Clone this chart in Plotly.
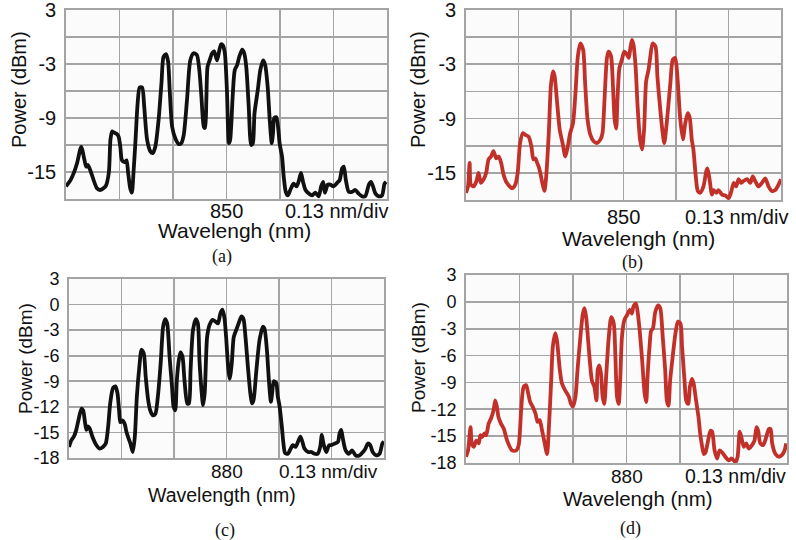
import plotly.graph_objects as go

# ---------------- data ----------------
wl_a = [849.610, 849.621, 849.629, 849.637, 849.647, 849.655, 849.659, 849.663, 849.669, 849.685,
        849.693, 849.706, 849.714, 849.718, 849.722, 849.726, 849.734, 849.738, 849.742, 849.746,
        849.752, 849.757, 849.761, 849.766, 849.770, 849.774, 849.779, 849.784, 849.789, 849.795,
        849.800, 849.807, 849.815, 849.821, 849.827, 849.835, 849.842, 849.847, 849.853, 849.858,
        849.862, 849.868, 849.876, 849.884, 849.890, 849.896, 849.904, 849.912, 849.920, 849.928,
        849.934, 849.939, 849.945, 849.948, 849.951, 849.954, 849.959, 849.965, 849.970, 849.977,
        849.983, 849.987, 849.991, 849.996, 850.001, 850.006, 850.009, 850.015, 850.020, 850.026,
        850.031, 850.038, 850.043, 850.048, 850.054, 850.060, 850.064, 850.068, 850.076, 850.082,
        850.089, 850.094, 850.100, 850.105, 850.110, 850.113, 850.116, 850.121, 850.126, 850.129,
        850.135, 850.139, 850.144, 850.149, 850.155, 850.163, 850.170, 850.175, 850.181, 850.186,
        850.192, 850.200, 850.208, 850.216, 850.224, 850.230, 850.235, 850.239, 850.246, 850.252,
        850.260, 850.269, 850.275, 850.281, 850.285, 850.290, 850.297, 850.305, 850.313, 850.321,
        850.329, 850.337, 850.346, 850.351, 850.356, 850.362, 850.370, 850.378, 850.384, 850.388]
pw_a = [-16.6, -15.9, -15.1, -14.0, -12.2, -13.7, -14.4, -14.2, -14.8, -16.8,
        -17.0, -16.6, -15.1, -11.4, -10.5, -10.6, -10.8, -11.1, -12.2, -13.7,
        -13.9, -13.7, -15.1, -16.8, -17.3, -15.1, -11.4, -7.4, -5.6, -5.6,
        -7.7, -11.4, -12.7, -12.9, -12.2, -9.2, -5.1, -2.2, -1.9, -2.7,
        -5.9, -10.0, -11.3, -11.9, -11.8, -10.9, -7.0, -2.6, -1.8, -2.0,
        -3.7, -6.6, -10.0, -10.1, -7.0, -3.3, -2.6, -1.8, -1.6, -2.6,
        -1.4, -0.8, -0.9, -1.8, -5.9, -11.8, -11.4, -6.6, -3.7, -3.1,
        -2.2, -1.4, -1.8, -3.3, -7.7, -12.0, -11.8, -8.5, -5.9, -3.7,
        -2.6, -3.1, -5.5, -9.2, -11.8, -10.7, -9.0, -8.9, -10.3, -11.8,
        -13.3, -15.5, -17.2, -17.6, -17.0, -16.3, -16.6, -16.1, -15.1, -16.1,
        -17.0, -17.4, -17.6, -17.3, -17.7, -16.6, -16.1, -17.3, -16.4, -16.4,
        -16.6, -16.2, -15.9, -14.6, -14.4, -15.9, -17.2, -17.2, -17.0, -17.4,
        -17.7, -17.7, -16.4, -16.1, -16.6, -17.4, -17.7, -17.6, -16.3, -16.1]

wl_b = [849.610, 849.615, 849.619, 849.622, 849.629, 849.636, 849.641, 849.647, 849.654, 849.660,
        849.666, 849.672, 849.678, 849.685, 849.691, 849.697, 849.703, 849.711, 849.724, 849.732,
        849.738, 849.744, 849.751, 849.757, 849.765, 849.772, 849.777, 849.782, 849.786, 849.790,
        849.794, 849.798, 849.804, 849.808, 849.815, 849.820, 849.825, 849.829, 849.835, 849.842,
        849.849, 849.856, 849.862, 849.868, 849.875, 849.881, 849.887, 849.893, 849.900, 849.905,
        849.911, 849.918, 849.926, 849.934, 849.943, 849.948, 849.953, 849.959, 849.963, 849.969,
        849.974, 849.978, 849.982, 849.985, 849.990, 849.996, 850.002, 850.007, 850.013, 850.017,
        850.021, 850.025, 850.030, 850.035, 850.041, 850.046, 850.051, 850.056, 850.062, 850.066,
        850.072, 850.079, 850.084, 850.091, 850.097, 850.101, 850.107, 850.116, 850.122, 850.128,
        850.134, 850.140, 850.147, 850.153, 850.159, 850.164, 850.169, 850.173, 850.179, 850.184,
        850.190, 850.198, 850.205, 850.208, 850.213, 850.219, 850.223, 850.230, 850.235, 850.244,
        850.252, 850.260, 850.266, 850.273, 850.279, 850.285, 850.291, 850.297, 850.306, 850.314,
        850.320, 850.326, 850.334, 850.343, 850.351, 850.359, 850.367, 850.376, 850.384, 850.390]
pw_b = [-17.2, -16.5, -13.9, -16.3, -16.5, -15.9, -15.0, -16.1, -15.7, -15.0,
        -13.5, -13.2, -12.6, -13.4, -13.2, -13.9, -15.2, -16.1, -16.7, -16.3,
        -15.0, -11.7, -10.6, -10.8, -11.0, -12.1, -13.5, -13.4, -13.9, -14.3,
        -15.0, -15.9, -17.0, -15.7, -10.6, -5.5, -3.8, -4.2, -6.9, -10.2,
        -11.7, -13.2, -12.1, -10.6, -9.5, -6.2, -2.1, -0.7, -1.4, -5.1,
        -9.1, -10.8, -11.5, -11.7, -11.3, -10.6, -6.9, -2.3, -1.6, -2.1,
        -5.5, -9.1, -10.1, -6.9, -3.4, -2.5, -1.6, -1.8, -2.3, -1.2,
        -0.3, -0.9, -3.3, -7.7, -11.3, -12.4, -10.2, -4.9, -3.6, -2.3,
        -0.7, -1.0, -4.4, -8.0, -10.6, -11.7, -9.5, -5.1, -2.5, -2.3,
        -4.7, -8.8, -11.3, -9.5, -8.4, -8.9, -11.3, -12.4, -15.4, -17.0,
        -17.2, -16.5, -14.8, -14.5, -15.7, -17.4, -16.9, -17.2, -16.9, -17.4,
        -17.5, -17.8, -17.2, -16.1, -16.5, -15.7, -16.1, -15.9, -15.7, -16.1,
        -15.4, -15.9, -16.5, -16.1, -15.6, -16.5, -17.0, -16.9, -16.3, -15.7]

wl_c = [879.610, 879.616, 879.622, 879.628, 879.635, 879.641, 879.645, 879.649, 879.653, 879.657,
        879.661, 879.668, 879.678, 879.686, 879.694, 879.701, 879.707, 879.712, 879.719, 879.725,
        879.730, 879.734, 879.737, 879.742, 879.748, 879.752, 879.756, 879.762, 879.768, 879.773,
        879.778, 879.785, 879.789, 879.795, 879.800, 879.806, 879.811, 879.818, 879.824, 879.830,
        879.837, 879.843, 879.848, 879.853, 879.859, 879.865, 879.869, 879.873, 879.877, 879.882,
        879.886, 879.891, 879.896, 879.903, 879.907, 879.911, 879.917, 879.924, 879.929, 879.933,
        879.938, 879.942, 879.946, 879.952, 879.958, 879.966, 879.973, 879.979, 879.985, 879.990,
        879.995, 879.999, 880.004, 880.008, 880.013, 880.018, 880.024, 880.030, 880.037, 880.042,
        880.047, 880.053, 880.059, 880.063, 880.067, 880.074, 880.082, 880.090, 880.094, 880.100,
        880.105, 880.110, 880.113, 880.117, 880.123, 880.127, 880.131, 880.137, 880.141, 880.145,
        880.152, 880.159, 880.164, 880.171, 880.177, 880.183, 880.188, 880.193, 880.202, 880.210,
        880.218, 880.226, 880.232, 880.236, 880.240, 880.247, 880.254, 880.259, 880.268, 880.276,
        880.280, 880.284, 880.288, 880.295, 880.303, 880.311, 880.320, 880.329, 880.338, 880.344,
        880.350, 880.356, 880.362, 880.371, 880.379, 880.386, 880.390]
pw_c = [-16.7, -15.9, -15.5, -14.7, -13.2, -12.2, -12.4, -13.6, -14.7, -14.3,
        -14.5, -15.5, -16.5, -16.9, -16.7, -16.3, -14.3, -11.6, -9.8, -9.6,
        -10.4, -12.4, -13.8, -13.6, -14.0, -14.9, -15.5, -16.3, -17.3, -15.5,
        -10.8, -6.9, -5.3, -5.7, -8.5, -11.2, -12.4, -13.0, -12.8, -10.8,
        -6.9, -2.6, -1.7, -2.2, -6.1, -9.6, -12.0, -12.4, -8.9, -6.5,
        -5.6, -6.1, -8.9, -11.6, -11.6, -7.7, -3.0, -1.7, -2.2, -6.5,
        -10.0, -11.8, -10.4, -3.8, -2.4, -1.8, -2.0, -2.2, -1.0, -0.6,
        -1.6, -3.8, -7.3, -8.7, -6.9, -3.8, -3.0, -2.2, -1.4, -1.7,
        -3.8, -7.3, -10.4, -11.6, -11.2, -7.7, -4.1, -2.6, -2.8, -5.3,
        -8.9, -11.4, -10.4, -9.0, -9.2, -10.8, -11.8, -14.3, -16.3, -17.4,
        -17.5, -16.9, -16.5, -16.7, -16.1, -15.5, -16.1, -16.9, -17.3, -17.3,
        -17.5, -17.5, -16.7, -15.3, -16.3, -17.3, -16.5, -16.5, -16.3, -16.1,
        -15.1, -14.7, -15.7, -17.1, -17.5, -17.1, -17.7, -17.7, -17.3, -16.9,
        -16.3, -16.5, -17.3, -17.7, -17.5, -16.3, -16.1]

wl_d = [879.610, 879.615, 879.621, 879.624, 879.629, 879.635, 879.641, 879.645, 879.649, 879.655,
        879.659, 879.665, 879.671, 879.677, 879.681, 879.685, 879.689, 879.695, 879.702, 879.710,
        879.722, 879.732, 879.738, 879.744, 879.750, 879.756, 879.761, 879.766, 879.772, 879.779,
        879.784, 879.789, 879.795, 879.800, 879.807, 879.811, 879.817, 879.821, 879.827, 879.831,
        879.838, 879.843, 879.851, 879.860, 879.865, 879.870, 879.876, 879.881, 879.888, 879.894,
        879.898, 879.902, 879.908, 879.916, 879.922, 879.927, 879.930, 879.934, 879.938, 879.942,
        879.946, 879.951, 879.957, 879.963, 879.969, 879.973, 879.977, 879.981, 879.985, 879.989,
        879.995, 880.001, 880.008, 880.013, 880.017, 880.023, 880.027, 880.032, 880.038, 880.044,
        880.048, 880.051, 880.056, 880.060, 880.064, 880.070, 880.077, 880.082, 880.088, 880.094,
        880.098, 880.102, 880.106, 880.113, 880.119, 880.125, 880.131, 880.135, 880.141, 880.145,
        880.150, 880.154, 880.159, 880.163, 880.169, 880.175, 880.179, 880.184, 880.188, 880.192,
        880.197, 880.204, 880.208, 880.214, 880.220, 880.226, 880.232, 880.240, 880.248, 880.256,
        880.265, 880.270, 880.275, 880.279, 880.285, 880.291, 880.297, 880.305, 880.311, 880.316,
        880.320, 880.325, 880.332, 880.337, 880.346, 880.350, 880.354, 880.362, 880.370, 880.378,
        880.384, 880.388]
pw_d = [-17.3, -16.6, -14.0, -15.8, -16.2, -15.5, -15.8, -14.9, -15.1, -14.7,
        -14.9, -13.6, -13.0, -12.1, -11.0, -11.7, -12.9, -13.6, -14.2, -15.5,
        -16.6, -16.6, -16.0, -12.1, -9.5, -9.3, -10.2, -11.2, -11.7, -12.5,
        -13.4, -13.2, -14.4, -15.5, -17.0, -14.4, -8.8, -5.0, -3.5, -4.3,
        -7.6, -9.1, -9.9, -10.6, -11.4, -11.7, -10.6, -7.6, -3.9, -1.3,
        -0.7, -1.7, -5.0, -8.8, -9.5, -11.0, -7.6, -7.1, -8.0, -10.6,
        -11.4, -8.0, -3.9, -1.7, -2.4, -6.1, -10.6, -11.4, -8.4, -3.9,
        -2.0, -1.5, -0.9, -1.3, -0.5, -0.2, -1.1, -3.2, -6.5, -10.2,
        -11.2, -8.4, -5.0, -3.2, -3.0, -1.1, -0.4, -0.7, -3.9, -7.6,
        -11.0, -11.6, -8.8, -5.8, -3.5, -2.2, -2.4, -5.0, -8.8, -11.0,
        -11.4, -9.5, -8.6, -9.1, -11.0, -12.9, -14.7, -16.2, -17.0, -16.8,
        -15.8, -14.4, -14.5, -16.6, -17.5, -16.6, -16.8, -17.3, -17.7, -17.5,
        -17.9, -17.3, -14.5, -15.1, -16.2, -15.8, -16.4, -16.0, -15.5, -14.0,
        -14.4, -15.8, -16.0, -15.5, -14.2, -14.2, -15.8, -17.0, -17.3, -17.1,
        -16.6, -15.8]

y_ticks = [3, 0, -3, -6, -9, -12, -15, -18]
y_text_top = ["3", "", "-3", "", "-9", "", "-15", ""]
y_text_bottom = ["3", "0", "-3", "-6", "-9", "-12", "-15", "-18"]
x_ticks_850 = [849.61, 849.74, 849.87, 850.00, 850.13, 850.26, 850.39]
x_ticks_880 = [879.61, 879.74, 879.87, 880.00, 880.13, 880.26, 880.39]
x_label_850 = "850"
x_label_880 = "880"

BLACK = "#111111"
RED = "#c2302a"
GRID = "#a4a4a4"
FONT = "Liberation Sans, Arial, sans-serif"
SERIF = "Liberation Serif, Times New Roman, serif"
W, H = 796, 540


def px(x0, x1, y0, y1):
    return [x0 / W, x1 / W], [1 - y1 / H, 1 - y0 / H]


panels = [
    # x, y, color, xdomain(px), ydomain(px), xticks, centre label, ytext, ytickfont, xrange,
    # centre-label y (px), label size
    (wl_a, pw_a, BLACK, (66, 387), (10, 199), x_ticks_850, x_label_850, y_text_top, 20,
     [849.61, 850.39], 211, 20),
    (wl_b, pw_b, RED, (466, 781), (10, 200), x_ticks_850, x_label_850, y_text_top, 20,
     [849.61, 850.39], 217, 20),
    (wl_c, pw_c, BLACK, (69, 384), (279, 458), x_ticks_880, x_label_880, y_text_bottom, 18,
     [879.61, 880.39], 471, 19),
    (wl_d, pw_d, RED, (466, 787), (275, 463), x_ticks_880, x_label_880, y_text_bottom, 18,
     [879.61, 880.39], 476, 19),
]

fig = go.Figure()
layout = {}
annotations = []
for i, (xs, ys, col, xd, yd, xt, xl, ytt, fs, xr, ly, lsz) in enumerate(panels, start=1):
    sx = "" if i == 1 else str(i)
    fig.add_trace(go.Scatter(x=xs, y=ys, mode="lines",
                             line=dict(color=col, width=3.8, shape="spline", smoothing=0.7),
                             xaxis="x" + sx, yaxis="y" + sx, showlegend=False,
                             hoverinfo="skip"))
    xdom, ydom = px(xd[0], xd[1], yd[0], yd[1])
    layout["xaxis" + sx] = dict(domain=xdom, anchor="y" + sx, range=xr, automargin=False,
                                tickvals=xt, showticklabels=False, showgrid=True,
                                gridcolor=GRID, gridwidth=1.8, showline=True,
                                mirror=True, linecolor=GRID, linewidth=1.8,
                                zeroline=False, ticks="")
    layout["yaxis" + sx] = dict(domain=ydom, anchor="x" + sx, range=[-18, 3], automargin=False,
                                tickvals=y_ticks, ticktext=ytt, showgrid=True,
                                gridcolor=GRID, gridwidth=1.8, showline=True,
                                mirror=True, linecolor=GRID, linewidth=1.8,
                                zeroline=False, ticks="", ticklabelstandoff=4,
                                ticklabeloverflow="allow",
                                tickfont=dict(family=FONT, size=fs, color="#111"))
    # centre wavelength label placed at the middle grid line (data x)
    annotations.append(dict(text=xl, x=xt[3], xref="x" + sx, y=1 - ly / H, yref="paper",
                            showarrow=False, xanchor="center", yanchor="middle",
                            font=dict(family=FONT, size=lsz, color="#111")))

fig.update_layout(**layout)


def ann(text, x, y, size=20, angle=0, family=FONT):
    return dict(text=text, x=x / W, y=1 - y / H, xref="paper", yref="paper",
                showarrow=False, textangle=angle, xanchor="center", yanchor="middle",
                font=dict(family=family, size=size, color="#111"))


annotations += [
    ann("Power (dBm)", 19, 90, 20, -90),
    ann("Power (dBm)", 418, 90, 20, -90),
    ann("Power (dBm)", 25, 359, 19, -90),
    ann("Power (dBm)", 418, 358, 19, -90),
    ann("0.13 nm/div", 336, 211, 20),
    ann("0.13 nm/div", 736, 217, 20),
    ann("0.13 nm/div", 328, 471, 19),
    ann("0.13 nm/div", 735, 476, 19.5),
    ann("Wavelengh (nm)", 235, 230, 21),
    ann("Wavelengh (nm)", 638, 238, 21),
    ann("Wavelength (nm)", 222, 495, 19.5),
    ann("Wavelengh (nm)", 638, 498, 20.5),
    ann("(a)", 222, 257, 18, 0, SERIF),
    ann("(b)", 632, 262, 18, 0, SERIF),
    ann("(c)", 225, 530, 18, 0, SERIF),
    ann("(d)", 630, 528, 18, 0, SERIF),
]

fig.update_layout(width=W, height=H, margin=dict(l=0, r=0, t=0, b=0),
                  paper_bgcolor="white", plot_bgcolor="#fbfbfb",
                  annotations=annotations)

fig.write_html("out.html", config={"displayModeBar": False, "staticPlot": True},
               post_script="document.body.style.margin='0';"
                           "document.body.style.overflow='hidden';")
